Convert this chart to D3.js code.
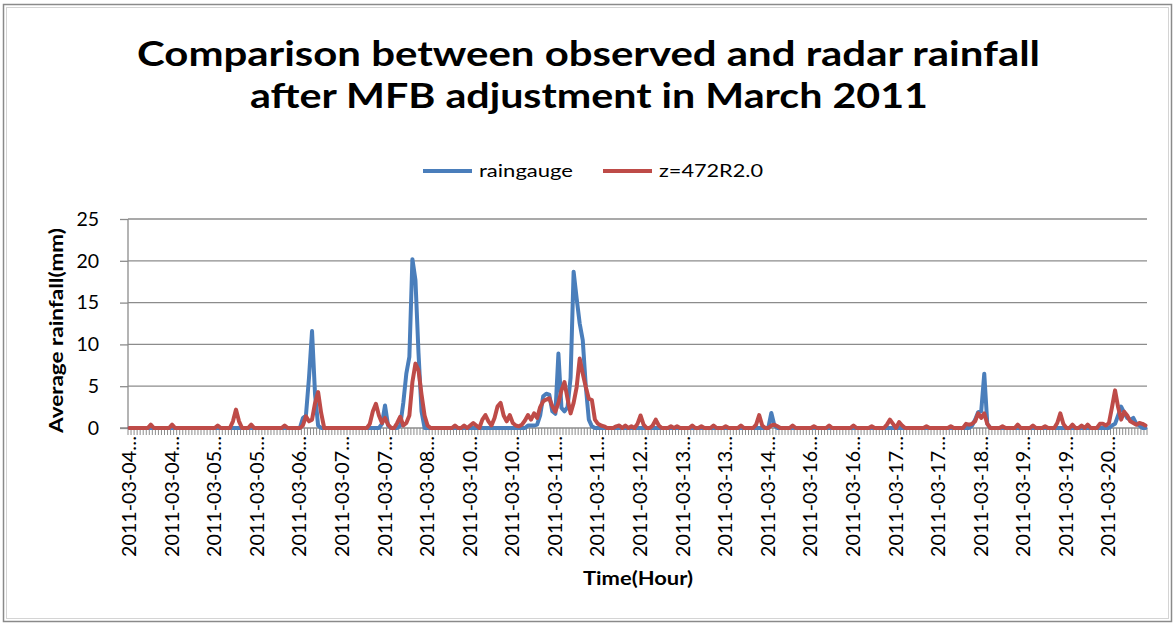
<!DOCTYPE html>
<html>
<head>
<meta charset="utf-8">
<script src="https://cdn.jsdelivr.net/npm/d3@7"></script>
<style>
    body { margin: 0; background: #fff; }
    svg { display: block; }
    text { font-family: Lato, "Open Sans", sans-serif; fill: #000; }
</style>
</head>
<body>
<svg id="chart" width="1174" height="626"></svg>
<script>
// One row per labelled group of 14 hourly points (last group has 13)
const groupLabels = [
    "2011-03-04", "2011-03-04", "2011-03-05", "2011-03-05", "2011-03-06",
    "2011-03-07", "2011-03-07", "2011-03-08", "2011-03-10", "2011-03-10",
    "2011-03-11", "2011-03-11", "2011-03-12", "2011-03-13", "2011-03-13",
    "2011-03-14", "2011-03-16", "2011-03-16", "2011-03-17", "2011-03-17",
    "2011-03-18", "2011-03-19", "2011-03-19", "2011-03-20"
];

const raingauge = [
    [0, 0, 0, 0, 0, 0, 0, 0, 0, 0, 0, 0, 0, 0],
    [0, 0, 0, 0, 0, 0, 0, 0, 0, 0, 0, 0, 0, 0],
    [0, 0, 0, 0, 0, 0, 0, 0, 0, 0, 0, 0, 0, 0],
    [0, 0, 0, 0, 0, 0, 0, 0, 0, 0, 0, 0, 0, 0],
    [0, 1.2, 1.5, 6.0, 11.6, 4.0, 0.3, 0, 0, 0, 0, 0, 0, 0],
    [0, 0, 0, 0, 0, 0, 0, 0, 0, 0, 0, 0, 0, 0.5],
    [2.7, 0.3, 0, 0, 0, 0.3, 3.0, 6.5, 8.5, 20.2, 17.7, 9.0, 2.0, 0],
    [0, 0, 0, 0, 0, 0, 0, 0, 0, 0, 0, 0, 0, 0],
    [0, 0, 0, 0, 0, 0, 0, 0, 0, 0, 0, 0, 0, 0],
    [0, 0, 0, 0, 0, 0.3, 0.3, 0.3, 0.4, 1.5, 3.8, 4.1, 4.0, 2.0],
    [1.7, 8.9, 2.4, 2.0, 2.5, 6.0, 18.7, 15.5, 12.5, 10.5, 5.0, 1.0, 0.2, 0],
    [0, 0, 0, 0, 0, 0, 0, 0, 0, 0, 0, 0, 0, 0],
    [0, 0, 0, 0, 0, 0, 0, 0, 0, 0, 0, 0, 0, 0],
    [0, 0, 0, 0, 0, 0, 0, 0, 0, 0, 0, 0, 0, 0],
    [0, 0, 0, 0, 0, 0, 0, 0, 0, 0, 0, 0, 0, 0],
    [0, 1.8, 0.3, 0, 0, 0, 0, 0, 0, 0, 0, 0, 0, 0],
    [0, 0, 0, 0, 0, 0, 0, 0, 0, 0, 0, 0, 0, 0],
    [0, 0, 0, 0, 0, 0, 0, 0, 0, 0, 0, 0, 0, 0],
    [0, 0, 0, 0, 0, 0, 0, 0, 0, 0, 0, 0, 0, 0],
    [0, 0, 0, 0, 0, 0, 0, 0, 0, 0, 0, 0.3, 1.0, 1.9],
    [2.0, 6.5, 0.5, 0, 0, 0, 0, 0, 0, 0, 0, 0, 0, 0],
    [0, 0, 0, 0, 0, 0, 0, 0, 0, 0, 0, 0, 0, 0],
    [0, 0, 0, 0, 0, 0, 0, 0, 0, 0, 0, 0, 0, 0],
    [0, 0.3, 0.5, 1.5, 2.55, 1.8, 1.2, 1.0, 1.2, 0.5, 0.3, 0, 0]
];

const radar = [
    [0, 0, 0, 0, 0, 0, 0, 0.4, 0, 0, 0, 0, 0, 0],
    [0.4, 0, 0, 0, 0, 0, 0, 0, 0, 0, 0, 0, 0, 0],
    [0, 0.3, 0, 0, 0, 0, 0.8, 2.2, 0.8, 0, 0, 0, 0.4, 0],
    [0, 0, 0, 0, 0, 0, 0, 0, 0, 0.3, 0, 0, 0, 0],
    [0, 0.3, 1.4, 0.8, 1.0, 3.0, 4.3, 1.8, 0, 0, 0, 0, 0, 0],
    [0, 0, 0, 0, 0, 0, 0, 0, 0, 0.5, 2.0, 2.9, 1.5, 0.6],
    [1.2, 0.4, 0, 0, 0.6, 1.35, 0.3, 0.6, 1.5, 5.5, 7.7, 6.9, 4.0, 1.5],
    [0.3, 0, 0, 0, 0, 0, 0, 0, 0, 0.3, 0, 0, 0.3, 0],
    [0.3, 0.6, 0.3, 0, 1.0, 1.55, 0.8, 0.3, 1.2, 2.6, 3.0, 1.5, 0.8, 1.55],
    [0.6, 0.3, 0.2, 0.4, 0.9, 1.55, 1.0, 1.75, 1.2, 2.5, 3.2, 3.4, 3.55, 2.6],
    [1.95, 3.0, 4.5, 5.5, 3.5, 1.75, 3.0, 4.9, 8.3, 6.5, 4.9, 3.5, 3.35, 1.0],
    [0.5, 0.3, 0.2, 0, 0, 0, 0.2, 0.3, 0, 0.3, 0, 0.2, 0, 0.5],
    [1.5, 0.4, 0, 0, 0.3, 1.0, 0.3, 0, 0, 0, 0.2, 0, 0.2, 0],
    [0, 0, 0, 0.3, 0, 0, 0.2, 0, 0, 0, 0.3, 0, 0, 0],
    [0.2, 0, 0, 0, 0, 0.3, 0, 0, 0, 0, 0.4, 1.55, 0.3, 0],
    [0, 0.3, 0.4, 0.2, 0, 0, 0, 0, 0.3, 0, 0, 0, 0, 0],
    [0, 0.2, 0, 0, 0, 0, 0.3, 0, 0, 0, 0, 0, 0, 0],
    [0.3, 0, 0, 0, 0, 0, 0.2, 0, 0, 0, 0, 0.4, 1.0, 0.5],
    [0, 0.7, 0.3, 0, 0, 0, 0, 0, 0, 0, 0.2, 0, 0, 0],
    [0, 0, 0, 0, 0.2, 0, 0, 0, 0, 0.5, 0.4, 0.5, 0.8, 1.75],
    [1.2, 1.75, 0.5, 0, 0, 0, 0, 0.2, 0, 0, 0, 0, 0.4, 0],
    [0, 0, 0, 0.3, 0, 0, 0, 0.2, 0, 0, 0, 0.6, 1.75, 0.5],
    [0, 0, 0.4, 0, 0, 0.3, 0, 0.4, 0, 0, 0, 0.5, 0.5, 0.3],
    [0.6, 2.5, 4.5, 2.5, 1.0, 1.95, 1.5, 0.8, 0.6, 0.4, 0.6, 0.5, 0.3]
];

const yTicks = [0, 5, 10, 15, 20, 25];
const seriesNames = ["raingauge", "z=472R2.0"];
const seriesColors = ["#4a7ebb", "#be4b48"];

const gauge = raingauge.flat();
const zr = radar.flat();
const n = gauge.length;

const svg = d3.select("#chart");
const plotLeft = 128, plotRight = 1147, plotTop = 219, plotBottom = 428;

// Frame
svg.append("rect")
    .attr("x", 3.5).attr("y", 4.5)
    .attr("width", 1168).attr("height", 617)
    .attr("fill", "#fff")
    .attr("stroke", "#8a8a8a")
    .attr("stroke-width", 1.5);
svg.append("rect")
    .attr("x", 6.5).attr("y", 7.5)
    .attr("width", 1162).attr("height", 611)
    .attr("fill", "none")
    .attr("stroke", "#d4d4d4")
    .attr("stroke-width", 1);

// Title
const title = svg.append("g").style("font-weight", "bold").style("font-size", "35px");
title.append("text")
    .attr("x", 137).attr("y", 66)
    .attr("textLength", 903).attr("lengthAdjust", "spacingAndGlyphs")
    .text("Comparison between observed and radar rainfall");
title.append("text")
    .attr("x", 250).attr("y", 108)
    .attr("textLength", 678).attr("lengthAdjust", "spacingAndGlyphs")
    .text("after MFB adjustment in March 2011");

// Scales
const x = d3.scaleLinear().domain([0, n]).range([plotLeft, plotRight]);
const y = d3.scaleLinear().domain([0, 25]).range([plotBottom, plotTop]);

// Gridlines
svg.append("g")
    .selectAll("line")
    .data(yTicks.filter((d) => d > 0))
    .join("line")
    .attr("x1", plotLeft).attr("x2", plotRight)
    .attr("y1", (d) => y(d)).attr("y2", (d) => y(d))
    .attr("stroke", "#8c8c8c")
    .attr("stroke-width", 1.3);

// Y axis
const yAxis = svg.append("g")
    .attr("transform", `translate(${plotLeft},0)`)
    .call(d3.axisLeft(y).tickValues(yTicks).tickSize(8).tickPadding(21));
yAxis.selectAll("line, path").attr("stroke", "#8c8c8c").attr("stroke-width", 1.3);
yAxis.selectAll("text")
    .style("font-size", "19.5px")
    .style("font-family", "Lato, sans-serif")
    .attr("fill", "#000");
yAxis.select("path").attr("d", `M0,${plotTop}V${plotBottom}`);

// X axis: a tick mark at every hour boundary
svg.append("g")
    .selectAll("line")
    .data(d3.range(n + 1))
    .join("line")
    .attr("x1", (d) => x(d)).attr("x2", (d) => x(d))
    .attr("y1", plotBottom).attr("y2", plotBottom + 7)
    .attr("stroke", "#8c8c8c")
    .attr("stroke-width", 1);
svg.append("line")
    .attr("x1", plotLeft - 8).attr("x2", plotRight)
    .attr("y1", plotBottom).attr("y2", plotBottom)
    .attr("stroke", "#8c8c8c")
    .attr("stroke-width", 1.3);

// X tick labels, one per group of 14 points, truncated like Excel
svg.append("g")
    .selectAll("text")
    .data(groupLabels)
    .join("text")
    .attr("transform", (d, i) => `translate(${x(i * 14 + 0.5)},436) rotate(-90)`)
    .attr("dy", "0.35em")
    .attr("text-anchor", "end")
    .attr("textLength", 121)
    .attr("lengthAdjust", "spacingAndGlyphs")
    .style("font-size", "18.5px")
    .text((d) => d + "\u2026");

// Lines
const line = d3.line()
    .x((d, i) => x(i + 0.5))
    .y((d) => y(d));
[gauge, zr].forEach((vals, k) => {
    svg.append("path")
        .datum(vals)
        .attr("d", line)
        .attr("fill", "none")
        .attr("stroke", seriesColors[k])
        .attr("stroke-width", 4)
        .attr("stroke-linejoin", "round")
        .attr("stroke-linecap", "round");
});

// Legend
const legendX = [423, 603];
const legendTextLen = [94, 104];
seriesNames.forEach((name, k) => {
    svg.append("line")
        .attr("x1", legendX[k]).attr("x2", legendX[k] + 49)
        .attr("y1", 171).attr("y2", 171)
        .attr("stroke", seriesColors[k])
        .attr("stroke-width", 4);
    svg.append("text")
        .attr("x", legendX[k] + 56).attr("y", 177)
        .attr("textLength", legendTextLen[k])
        .attr("lengthAdjust", "spacingAndGlyphs")
        .style("font-size", "17px")
        .text(name);
});

// Axis titles
svg.append("text")
    .attr("x", 583).attr("y", 585)
    .attr("textLength", 110)
    .attr("lengthAdjust", "spacingAndGlyphs")
    .style("font-weight", "bold")
    .style("font-size", "18px")
    .text("Time(Hour)");
svg.append("text")
    .attr("transform", "translate(63,433) rotate(-90)")
    .attr("textLength", 205)
    .attr("lengthAdjust", "spacingAndGlyphs")
    .style("font-weight", "bold")
    .style("font-size", "18px")
    .text("Average rainfall(mm)");
</script>
</body>
</html>
